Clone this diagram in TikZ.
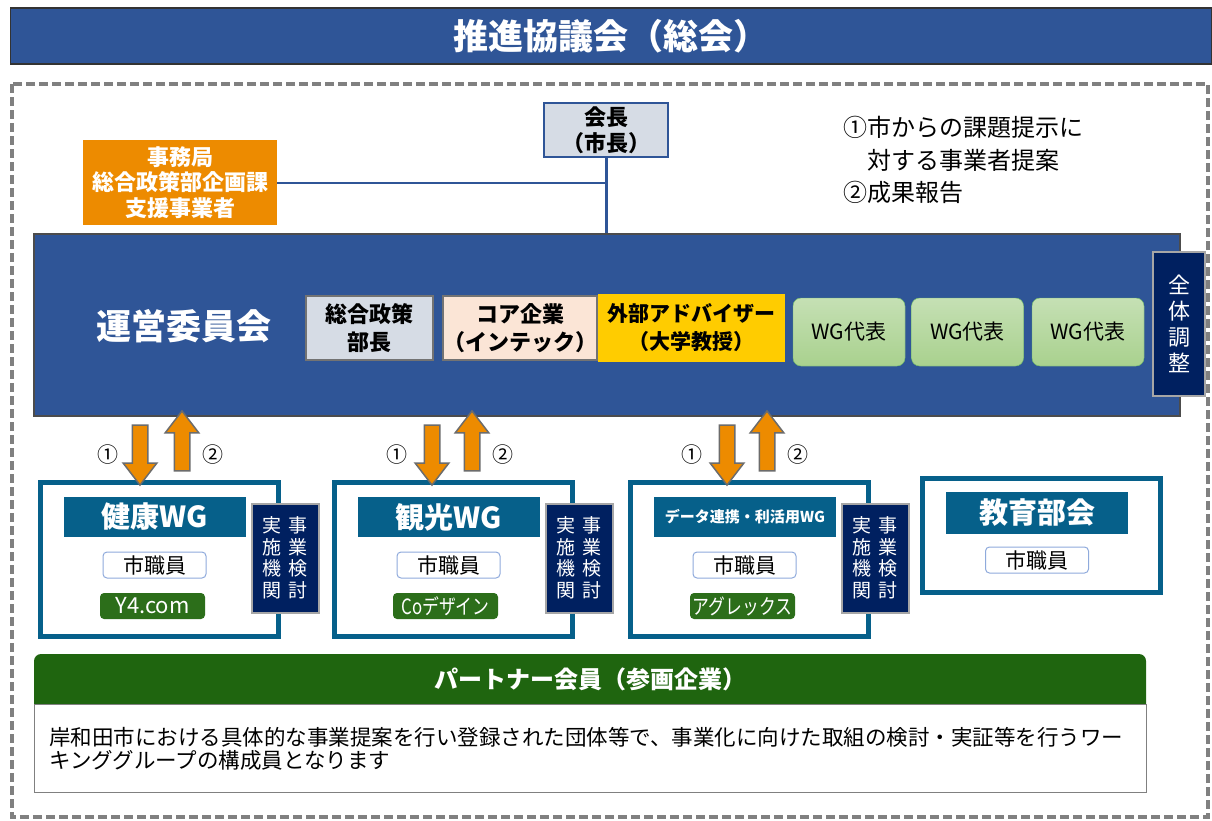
\documentclass[tikz,border=0pt]{standalone}
\usepackage{fontspec}
\setmainfont{Noto Sans CJK JP}
\newfontfamily\narrowjp{Noto Sans CJK JP}[FakeStretch=0.8]
\usetikzlibrary{shapes.arrows}

\definecolor{bandblue}{HTML}{2F5597}
\definecolor{navy}{HTML}{002060}
\definecolor{wgteal}{HTML}{06608A}
\definecolor{jimuorange}{HTML}{ED8B00}
\definecolor{paleblue}{HTML}{D6DCE5}
\definecolor{peach}{HTML}{FBE5D6}
\definecolor{advyellow}{HTML}{FFCC00}
\definecolor{wggreen}{HTML}{A9D18E}
\definecolor{wglight}{HTML}{C5E0B4}
\definecolor{firmgreen}{HTML}{2C6E1A}
\definecolor{partgreen}{HTML}{1F650F}
\definecolor{staffline}{HTML}{8FAADC}

\begin{document}
\begin{tikzpicture}[x=1pt,y=-1pt,
    every node/.style={inner sep=0pt,align=center},
    big/.style={font=\bfseries\fontsize{35}{40}\selectfont,text=white},
    topbox/.style={font=\bfseries\fontsize{22}{25.5}\selectfont},
    member/.style={topbox,draw=gray!90!black,line width=1.5pt,minimum height=64pt,font=\bfseries\fontsize{22}{28}\selectfont},
    wgrep/.style={draw=green!50!black!60,fill=wggreen,top color=wglight,bottom color=wggreen,rounded corners=8pt,
        minimum width=112pt,minimum height=68pt,font=\fontsize{21}{24}\selectfont},
    vbox/.style={fill=navy,draw=gray!70,line width=2pt,text=white},
    vtext/.style={text=white,font=\fontsize{19}{21.5}\selectfont},
    wgbox/.style={draw=wgteal,line width=5pt,fill=white,minimum width=238pt,minimum height=154pt},
    wghead/.style={fill=wgteal,text=white,minimum width=182pt,minimum height=40pt,font=\bfseries\fontsize{29}{32}\selectfont},
    staff/.style={draw=staffline,fill=white,line width=1pt,rounded corners=4pt,minimum width=103pt,minimum height=26pt,
        font=\fontsize{21}{23}\selectfont},
    firm/.style={fill=firmgreen,text=white,rounded corners=4pt,minimum width=105pt,minimum height=26pt,
        font=\narrowjp\fontsize{21}{23}\selectfont},
    downarr/.style={single arrow,draw=gray!85!black,fill=jimuorange,line width=1.5pt,minimum height=60pt,minimum width=32pt,
        inner ysep=7pt,single arrow head extend=9pt,single arrow tip angle=75,rotate=-90},
    uparr/.style={downarr,rotate=180},
    num/.style={font=\fontsize{21}{24}\selectfont}]
  \useasboundingbox (0,0) rectangle (1212,820);

  % title and outer frame
  \node[big,fill=bandblue,draw=gray!40!black,line width=1.5pt,minimum width=1201pt,minimum height=56pt] (title) at (611,36) {推進協議会（総会）};
  \draw[gray,line width=3.5pt,dash pattern=on 9pt off 4pt] (12,84) rectangle (1208,817);

  % top row
  \node[topbox,fill=paleblue,draw=bandblue,line width=2pt,minimum width=124pt,minimum height=54pt] (kaicho) at (606,130) {会長\\（市長）};
  \node[topbox,fill=jimuorange,text=white,minimum width=194pt,minimum height=85pt] (jimu) at (180,182.5) {事務局\\総合政策部企画課\\支援事業者};
  \node[align=left,font=\fontsize{24}{32.5}\selectfont,anchor=north west] (memo) at (843,116) {①市からの課題提示に\\\hspace*{1em}対する事業者提案\\②成果報告};

  % steering committee
  \node[fill=bandblue,draw=gray!60!black,line width=1.5pt,minimum width=1146pt,minimum height=182pt] (unei) at (607,325) {};
  \node[big] (ueilabel) at (184,326) {運営委員会};
  \node[member,fill=paleblue,minimum width=127pt] (bucho) at (369.5,328) {総合政策\\部長};
  \node[member,fill=peach,minimum width=148pt] (core) at (520,328) {コア企業\\（インテック）};
  \node[topbox,fill=advyellow,minimum width=187pt,minimum height=68pt,font=\bfseries\fontsize{21}{28}\selectfont] (adv) at (691.5,328) {外部アドバイザー\\（大学教授）};
  \node[wgrep] (rep1) at (849,332) {WG代表};
  \node[wgrep] (rep2) at (967.5,332) {WG代表};
  \node[wgrep] (rep3) at (1088,332) {WG代表};
  \node[vbox,minimum width=52pt,minimum height=144pt,font=\fontsize{22}{26}\selectfont] (zentai) at (1179,324) {全\\体\\調\\整};

  \draw[bandblue,line width=3pt] (kaicho.south) -- (kaicho.south |- unei.north);
  \draw[bandblue,line width=2pt] (jimu.east) -- (jimu.east -| kaicho.south);

  % working groups
  \node[wgbox] (kenko) at (159.5,559.5) {};
  \node[wghead] (kenkohead) at (155,517) {健康WG};
  \node[staff] (kenkostaff) at (154.5,565) {市職員};
  \node[firm,font=\fontsize{22}{23}\selectfont] (kenkofirm) at (152.5,606) {Y4.com};
  \node[vbox,minimum width=67pt,minimum height=109pt] (kenkojk) at (285.5,558) {};
  \node[vtext] at ([xshift=-14pt]kenkojk.center) {実\\施\\機\\関};
  \node[vtext] at ([xshift=12pt]kenkojk.center) {事\\業\\検\\討};

  \node[wgbox] (kanko) at (453.5,559.5) {};
  \node[wghead] (kankohead) at (449,517) {観光WG};
  \node[staff] (kankostaff) at (448.5,565) {市職員};
  \node[firm] (kankofirm) at (445.5,606) {Coデザイン};
  \node[vbox,minimum width=67pt,minimum height=109pt] (kankojk) at (579.5,558) {};
  \node[vtext] at ([xshift=-14pt]kankojk.center) {実\\施\\機\\関};
  \node[vtext] at ([xshift=12pt]kankojk.center) {事\\業\\検\\討};

  \node[wgbox] (data) at (749.5,559.5) {};
  \node[wghead,font=\bfseries\fontsize{15}{18}\selectfont] (datahead) at (745,517) {データ連携・利活用WG};
  \node[staff] (datastaff) at (744.5,565) {市職員};
  \node[firm] (datafirm) at (742.5,606) {アグレックス};
  \node[vbox,minimum width=67pt,minimum height=109pt] (datajk) at (875.5,558) {};
  \node[vtext] at ([xshift=-14pt]datajk.center) {実\\施\\機\\関};
  \node[vtext] at ([xshift=12pt]datajk.center) {事\\業\\検\\討};

  \node[wgbox,minimum height=114pt] (kyoiku) at (1041,535) {};
  \node[wghead,minimum height=42pt] (kyoikuhead) at (1037,513) {教育部会};
  \node[staff] (kyoikustaff) at (1037,560) {市職員};

  % proposal / report arrows
  \node[downarr] (d1) at (140,450) {};
  \node[uparr] (u1) at (182,446) {};
  \node[num] at (108,455) {①};
  \node[num] at (213,455) {②};
  \node[downarr] (d2) at (432,450) {};
  \node[uparr] (u2) at (472,446) {};
  \node[num] at (397,455) {①};
  \node[num] at (503,455) {②};
  \node[downarr] (d3) at (727,450) {};
  \node[uparr] (u3) at (767,446) {};
  \node[num] at (692,455) {①};
  \node[num] at (798,455) {②};

  % partner members
  \node[fill=partgreen,rounded corners=7pt,minimum width=1112pt,minimum height=60pt] (parthead) at (590,684) {};
  \node[big,font=\bfseries\fontsize{24}{28}\selectfont] at (590,679) {パートナー会員（参画企業）};
  \node[fill=white,draw=gray,line width=1pt,minimum width=1112pt,minimum height=88pt] (partbody) at (590,748) {};
  \node[anchor=west,align=left,font=\fontsize{21.5}{23.5}\selectfont] (parttext) at (49,749) {岸和田市における具体的な事業提案を行い登録された団体等で、事業化に向けた取組の検討・実証等を行うワー\\キンググループの構成員となります};
\end{tikzpicture}
\end{document}
